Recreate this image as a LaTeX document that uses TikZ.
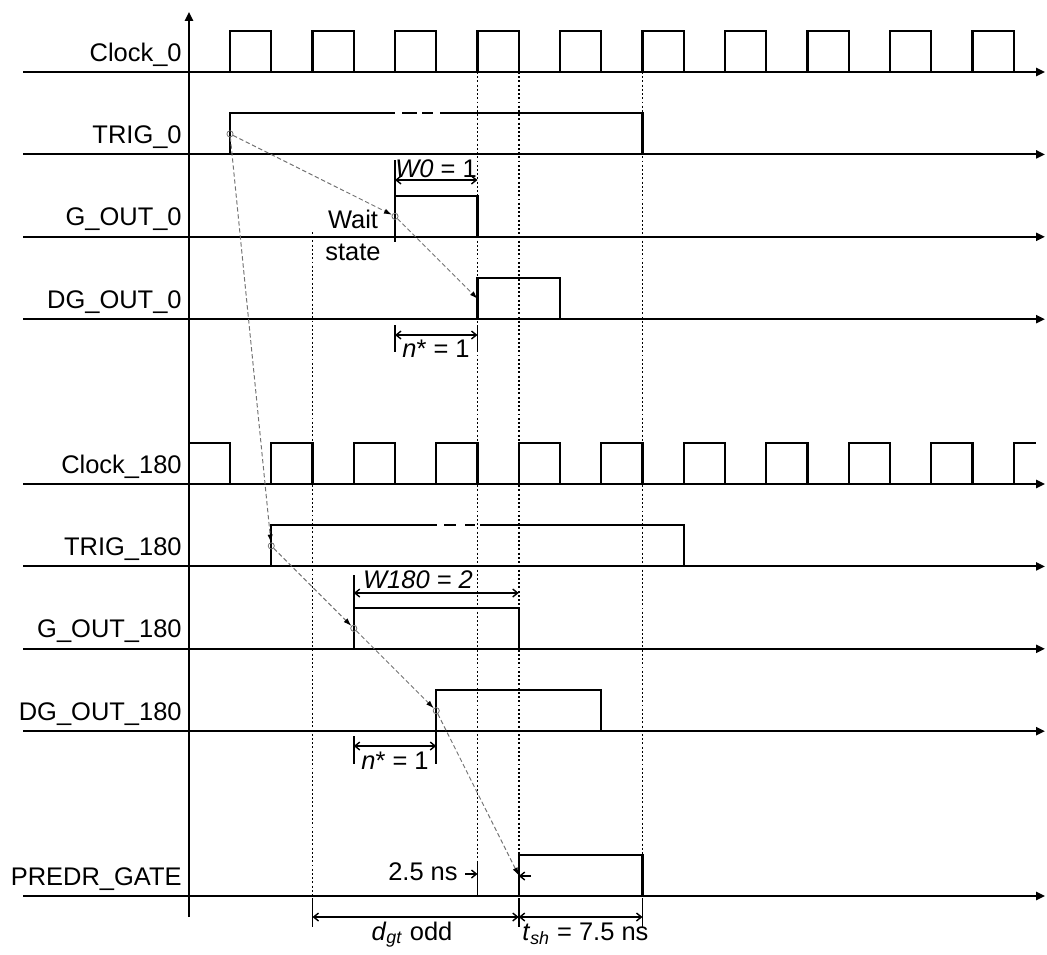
\documentclass[tikz,border=0pt]{standalone}
\usepackage{fontspec}
\setmainfont{Liberation Sans}
\usepackage{tikz}
\usetikzlibrary{calc, arrows.meta}

\begin{document}
\begin{tikzpicture}[x=0.02cm, y=-0.02cm,
		font=\fontsize{14.5}{18}\selectfont,
		time axis/.style={line width=1.2pt, -{Triangle[length=5pt, width=4.5pt]}},
		wave/.style={line width=1.2pt},
		guide/.style={line width=1.1pt, dash pattern=on 1.1pt off 1.3pt},
		dim/.style={line width=0.8pt, {Straight Barb[length=2.8pt, width=4.5pt]}-{Straight Barb[length=2.8pt, width=4.5pt]}},
		dimtip/.style={line width=0.8pt, -{Straight Barb[length=2.8pt, width=4.5pt]}},
		tick/.style={line width=0.9pt},
		prop/.style={black!55, line width=0.55pt, dash pattern=on 2.5pt off 1.5pt, -{Latex[length=4.5pt, width=3pt, black]}},
		edge dot/.style={circle, draw=black!55, line width=0.45pt, inner sep=0pt, minimum size=3.5pt}]
			\useasboundingbox (0,0) rectangle (1047,954);

			\def\h{41};
			\def\hp{41.25};
			\def\pulse#1#2#3{\draw[wave] (#1,#2) -- ++(0,-\h) -- ++(#3,0) -- ++(0,\h);}

			% dotted time marks
			\draw[guide] (312.5,232) -- (312.5,927);
			\draw[guide] (477.5,72) -- (477.5,896);
			\draw[guide] (518.75,72) -- (518.75,927);
			\draw[guide] (642.5,72) -- (642.5,927);

			% axes and signal names
			\draw[time axis] (189,917) -- (189,12);
			\foreach \y/\sig/\nm in {72/Clock\_0/clk0, 154.4/TRIG\_0/trig0, 236.8/G\_OUT\_0/g0, 319.2/DG\_OUT\_0/dg0,
					484/Clock\_180/clk180, 566.4/TRIG\_180/trig180, 648.8/G\_OUT\_180/g180, 731.2/DG\_OUT\_180/dg180,
					896/PREDR\_GATE/predr} {
				\draw[time axis] (23,\y) -- (1045,\y);
				\node[anchor=base east, inner sep=0pt] (name \nm) at (182,\y-11) {\sig};
			}

			% clocks
			\foreach \k in {0,...,9}
				\pulse{230+82.5*\k}{72}{\hp};
			\foreach \k in {0,...,9}
				\pulse{188.75+82.5*\k}{484}{\hp};
			\draw[wave] (1013.75,484) -- ++(0,-\h) -- ++(22,0);

			% triggers
			\begin{scope}[wave]
				\draw (230,154.4) -- (230,113.4) -- (395,113.4);
				\draw (402,113.4) -- (417,113.4);
				\draw (422,113.4) -- (433,113.4);
				\draw (440,113.4) -- (642.5,113.4) -- (642.5,154.4);

				\draw (271.25,566.4) -- (271.25,525.4) -- (437,525.4);
				\draw (444,525.4) -- (456,525.4);
				\draw (465,525.4) -- (475,525.4);
				\draw (480,525.4) -- (683.75,525.4) -- (683.75,566.4);
			\end{scope}

			% gates
			\draw[wave] (395,160) -- (395,242);
			\draw[wave] (395,195.8) -- (477.5,195.8) -- (477.5,236.8);
			\pulse{477.5}{319.2}{82.5}
			\draw[wave] (353.75,575) -- (353.75,607.8);
			\pulse{353.75}{648.8}{165}
			\pulse{436.25}{731.2}{165}
			\pulse{518.75}{896}{123.75}

			% widths
			\draw[dim] (395,180) -- (477.5,180);
			\node[anchor=base, inner sep=0pt] (w0) at (436,177) {\textit{W0} = 1};
			\node[align=center, anchor=north, inner sep=0pt] (wait) at (353,210) {Wait\\state};

			\draw[tick] (395,325) -- (395,352);
			\draw[tick] (477.5,325) -- (477.5,352);
			\draw[dim] (395,335) -- (477.5,335);
			\node[anchor=base, inner sep=0pt] (n0) at (436,357) {\textit{n}* = 1};

			\draw[dim] (353.75,593) -- (518.75,593);
			\node[anchor=base, inner sep=0pt] (w180) at (418,588) {\textit{W180 = 2}};

			\draw[tick] (353.75,736) -- (353.75,764);
			\draw[tick] (436.25,731.2) -- (436.25,764);
			\draw[dim] (353.75,746) -- (436.25,746);
			\node[anchor=base, inner sep=0pt] (n180) at (395,769) {\textit{n}* = 1};

			% shift and delay
			\draw[tick] (477.5,862) -- (477.5,896);
			\node[anchor=base east, inner sep=0pt] (shift) at (458,880) {2.5 ns};
			\draw[dimtip] (465,874) -- (477.5,874);
			\draw[dimtip] (531,876) -- (518.75,876);

			\foreach \x in {312.5, 518.75, 642.5}
				\draw[tick] (\x,900) -- (\x,927);
			\draw[dim] (312.5,917) -- (518.75,917);
			\draw[dim] (518.75,917) -- (642.5,917);
			\node[anchor=base, inner sep=0pt] (dgt) at (412,940) {\textit{d}\textsubscript{\textit{gt}} odd};
			\node[anchor=base west, inner sep=0pt] (tsh) at (522,940) {\textit{t}\textsubscript{\textit{sh}} = 7.5 ns};

			% propagation of the edges
			\node[edge dot] (e trig0) at (230,133.9) {};
			\node[edge dot] (e g0) at (395,216.3) {};
			\coordinate (e dg0) at (477.5,298.7);
			\node[edge dot] (e trig180) at (271.25,545.9) {};
			\node[edge dot] (e g180) at (353.75,628.3) {};
			\node[edge dot] (e dg180) at (436.25,710.7) {};
			\coordinate (e predr) at (518.75,875.5);

			\draw[prop] (e trig0) -- (e g0);
			\draw[prop] (e g0) -- (e dg0);
			\draw[prop] (e trig0) -- (e trig180);
			\draw[prop] (e trig180) -- (e g180);
			\draw[prop] (e g180) -- (e dg180);
			\draw[prop] (e dg180) -- (e predr);
		\end{tikzpicture}
\end{document}
